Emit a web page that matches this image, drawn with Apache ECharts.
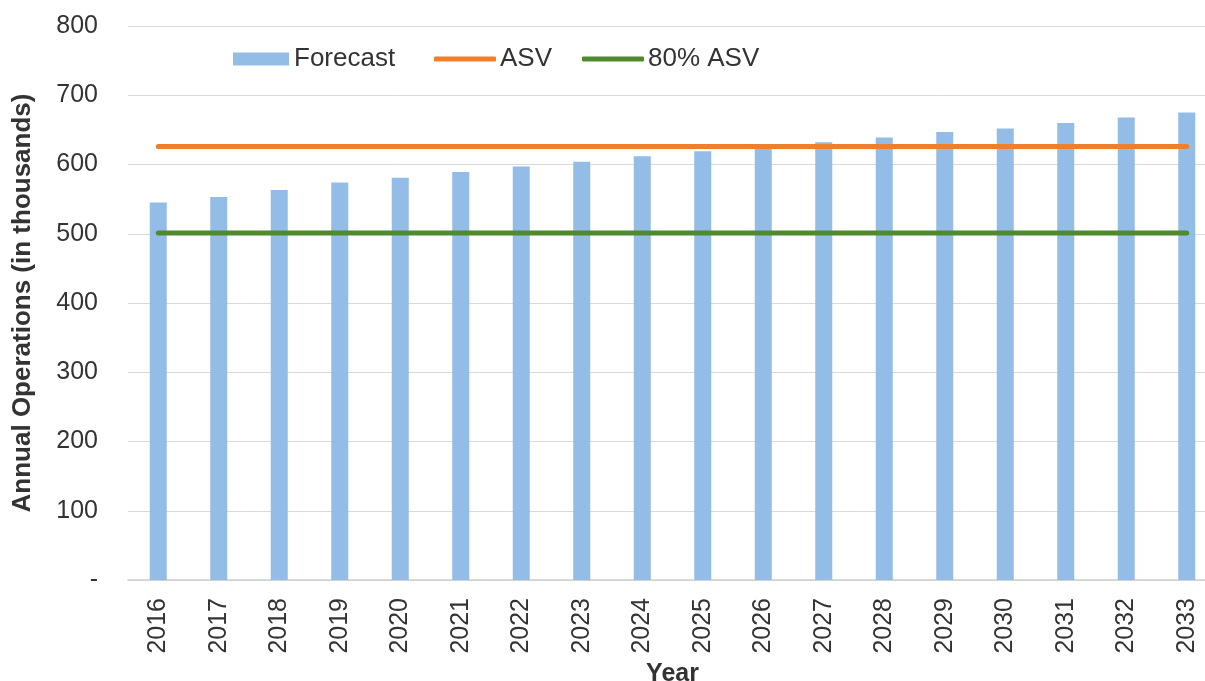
<!DOCTYPE html>
<html>
<head>
<meta charset="utf-8">
<script src="https://cdn.jsdelivr.net/npm/echarts@6/dist/echarts.min.js"></script>
<style>
  html, body { margin: 0; padding: 0; background: #ffffff; overflow: hidden; }
  #chart { width: 1205px; height: 681px; }
</style>
</head>
<body>
<div id="chart"></div>
<script>
// Annual operations forecast vs. annual service volume (thousands)
const years = ['2016','2017','2018','2019','2020','2021','2022','2023','2024',
               '2025','2026','2027','2028','2029','2030','2031','2032','2033'];
const forecast = [545, 553, 563, 574, 581, 589, 597, 604, 612,
                  619, 626, 632, 639, 647, 652, 660, 668, 675];
const asvValue = 626;
const asv80Value = 501;
const asv = years.map(() => asvValue);
const asv80 = years.map(() => asv80Value);

const textColor = '#333333';
const font = '"Liberation Sans", Arial, sans-serif';
const legendText = { fontSize: 26, color: textColor, fontFamily: font, padding: [0, 0, 0, 0] };

const chart = echarts.init(document.getElementById('chart'));
chart.setOption({
  animation: false,
  backgroundColor: '#ffffff',
  textStyle: { fontFamily: font, color: textColor },
  legend: [
    {
      left: 233, top: 46, padding: 0,
      itemWidth: 56, itemHeight: 13,
      textStyle: legendText,
      data: [{ name: 'Forecast', icon: 'rect' }]
    },
    {
      left: 434, top: 46, padding: 0,
      itemWidth: 62, itemHeight: 5,
      textStyle: Object.assign({}, legendText, { padding: [0, 0, 0, -1] }),
      data: [{ name: 'ASV', icon: 'roundRect' }]
    },
    {
      left: 582, top: 46, padding: 0,
      itemWidth: 62, itemHeight: 5,
      textStyle: Object.assign({}, legendText, { padding: [0, 0, 0, -1] }),
      data: [{ name: '80% ASV', icon: 'roundRect' }]
    }
  ],
  grid: {
    left: 128, top: 26, height: 554, width: 1089,
    containLabel: false,
    outerBoundsMode: 'none'
  },
  xAxis: {
    type: 'category',
    data: years,
    boundaryGap: true,
    name: 'Year',
    nameLocation: 'middle',
    nameGap: 78,
    nameTextStyle: { fontSize: 25, fontWeight: 'bold', color: textColor, fontFamily: font },
    axisLine: { lineStyle: { color: '#cfcfcf', width: 1.5 } },
    axisTick: { show: false },
    axisLabel: { rotate: 90, margin: 18, fontSize: 25, color: textColor, fontFamily: font }
  },
  yAxis: {
    type: 'value',
    min: 0,
    max: 800,
    interval: 100,
    name: 'Annual Operations (in thousands)',
    nameLocation: 'middle',
    nameGap: 92,
    nameTextStyle: { fontSize: 26, fontWeight: 'bold', color: textColor, fontFamily: font },
    axisLine: { show: false },
    axisTick: { show: false },
    splitLine: { lineStyle: { color: '#dadada', width: 1 } },
    axisLabel: {
      margin: 30,
      fontSize: 25,
      color: textColor,
      fontFamily: font,
      formatter: v => (v === 0 ? '-' : String(v))
    }
  },
  series: [
    {
      name: 'Forecast',
      type: 'bar',
      data: forecast,
      barWidth: 17,
      itemStyle: { color: '#93bde6' },
      z: 1
    },
    {
      name: 'ASV',
      type: 'line',
      data: asv,
      symbol: 'none',
      lineStyle: { color: '#f07f2c', width: 5, cap: 'round' },
      itemStyle: { color: '#f07f2c' },
      z: 3
    },
    {
      name: '80% ASV',
      type: 'line',
      data: asv80,
      symbol: 'none',
      lineStyle: { color: '#4f8a2c', width: 5, cap: 'round' },
      itemStyle: { color: '#4f8a2c' },
      z: 3
    }
  ]
});
</script>
</body>
</html>
